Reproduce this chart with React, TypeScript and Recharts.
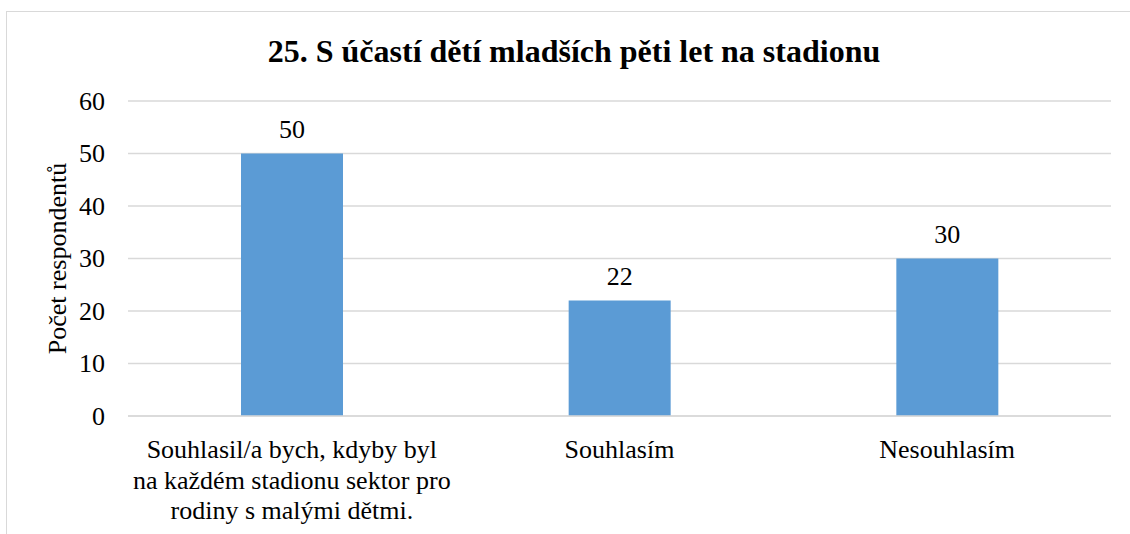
import React from "react";
import { BarChart, Bar, XAxis, YAxis, CartesianGrid, LabelList } from "recharts";

const categories = [
  "Souhlasil/a bych, kdyby byl na každém stadionu sektor pro rodiny s malými dětmi.",
  "Souhlasím",
  "Nesouhlasím",
];
const counts = [50, 22, 30];
const yTicks = [0, 10, 20, 30, 40, 50, 60];

const title = "25. S účastí dětí mladších pěti let na stadionu";
const yTitle = "Počet respondentů";

const FONT = "'Liberation Serif', 'Times New Roman', serif";
const GRID = "#d9d9d9";
const BAR = "#5b9bd5";

const data = categories.map((name, i) => ({ name, value: counts[i] }));

let ctx: CanvasRenderingContext2D | null = null;
function wrap(text: string, max: number, font: string) {
  if (!ctx) ctx = document.createElement("canvas").getContext("2d");
  ctx!.font = font;
  const lines: string[] = [];
  let cur = "";
  for (const w of text.split(" ")) {
    const next = cur ? cur + " " + w : w;
    if (cur && ctx!.measureText(next).width > max) {
      lines.push(cur);
      cur = w;
    } else cur = next;
  }
  if (cur) lines.push(cur);
  return lines;
}

const textStyle = { fontFamily: FONT, fontSize: 26, fill: "#000" };

function XTick({ x, y, payload }: any) {
  const lines = wrap(payload.value, 320, `26px ${FONT}`);
  return (
    <text x={x} y={y + 40} textAnchor="middle" style={textStyle}>
      {lines.map((l, i) => (
        <tspan key={i} x={x} dy={i === 0 ? 0 : 30.5}>
          {l}
        </tspan>
      ))}
    </text>
  );
}

function YTick({ x, y, payload }: any) {
  return (
    <text x={x} y={y} textAnchor="end" dominantBaseline="central" style={textStyle}>
      {payload.value}
    </text>
  );
}

function YTitle({ viewBox }: any) {
  const cx = 57;
  const cy = viewBox.y + viewBox.height / 2;
  return (
    <text
      x={cx}
      y={cy}
      transform={`rotate(-90 ${cx} ${cy})`}
      textAnchor="middle"
      dominantBaseline="central"
      style={textStyle}
    >
      {yTitle}
    </text>
  );
}

function ValueLabel({ x, y, width, value }: any) {
  return (
    <text x={x + width / 2} y={y - 16} textAnchor="middle" style={textStyle}>
      {value}
    </text>
  );
}

export default function App() {
  return (
    <div style={{ position: "absolute", left: 0, top: 0, width: 1130, height: 534, overflow: "hidden", background: "#fff", fontFamily: FONT }}>
      <div
        style={{
          position: "absolute",
          left: 6,
          top: 11,
          width: 1160,
          height: 560,
          border: `1px solid ${GRID}`,
        }}
      />
      <div
        style={{
          position: "absolute",
          left: 0,
          top: 35,
          width: 1148,
          textAlign: "center",
          fontWeight: "bold",
          fontSize: 32,
          lineHeight: "32px",
          color: "#000",
        }}
      >
        {title}
      </div>
      <div style={{ position: "absolute", left: 0, top: 0 }}>
        <BarChart width={1130} height={534} data={data} margin={{ top: 101, right: 19, bottom: 0, left: 8 }}>
          <CartesianGrid vertical={false} stroke={GRID} strokeWidth={1.5} />
          <XAxis
            dataKey="name"
            tick={<XTick />}
            tickLine={false}
            tickSize={0}
            axisLine={{ stroke: GRID, strokeWidth: 1.5 }}
            interval={0}
            height={118}
          />
          <YAxis
            width={120}
            domain={[0, 60]}
            ticks={yTicks}
            interval={0}
            tickLine={false}
            axisLine={false}
            tickSize={0}
            tickMargin={23}
            tick={<YTick />}
            label={<YTitle />}
          />
          <Bar dataKey="value" fill={BAR} barSize={102} isAnimationActive={false}>
            <LabelList dataKey="value" content={<ValueLabel />} />
          </Bar>
        </BarChart>
      </div>
    </div>
  );
}
